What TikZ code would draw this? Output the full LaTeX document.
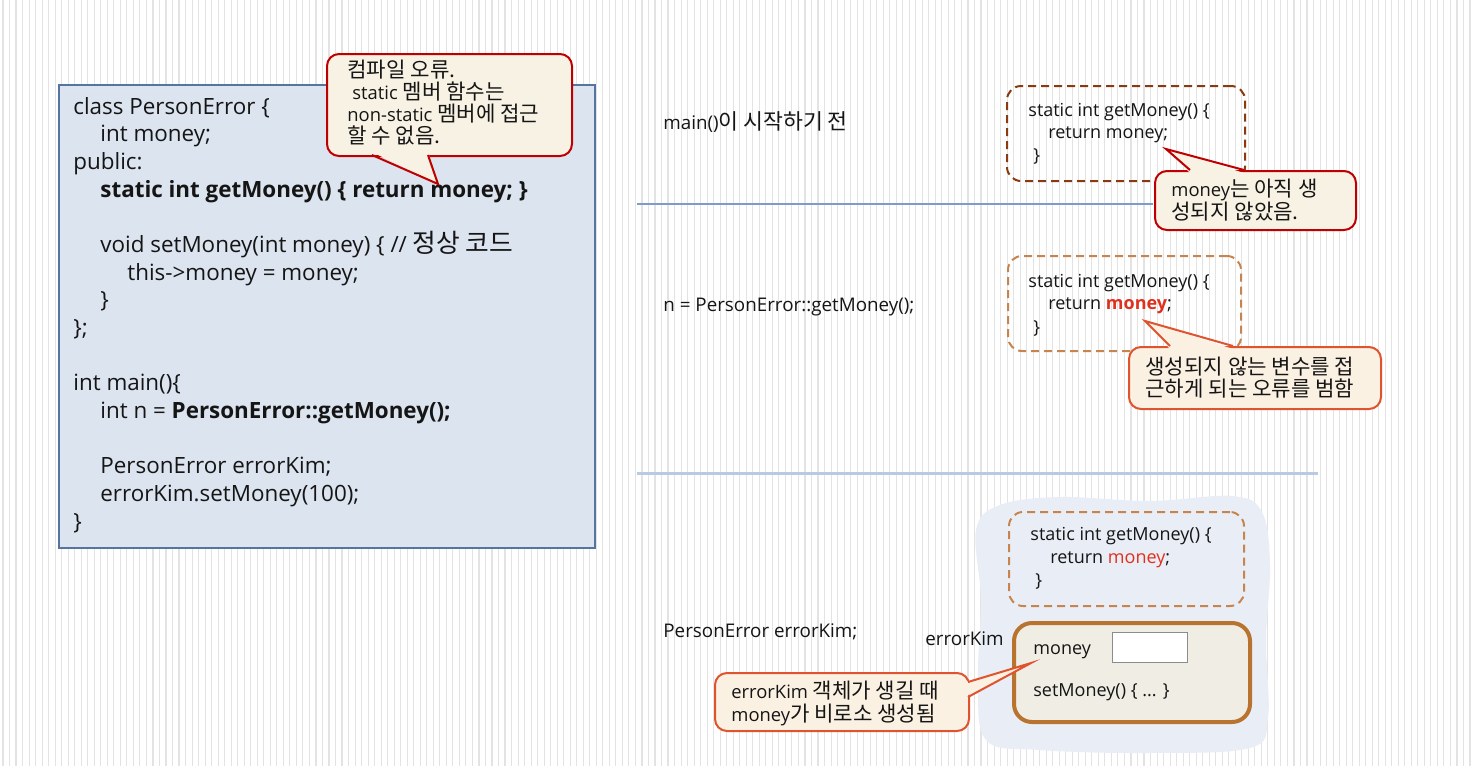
\documentclass[tikz,border=0pt]{standalone}
\usepackage{fontspec}
\setmainfont{Open Sans}
\newfontfamily\krfont{Noto Sans CJK KR}[Scale=1.15]
\newcommand\KR[1]{{\krfont #1}}
\definecolor{txt}{HTML}{151515}
\definecolor{boxfill}{HTML}{DCE4EF}
\definecolor{boxline}{HTML}{5574A0}
\definecolor{cream}{HTML}{F7F2E4}
\definecolor{peach}{HTML}{FBF1E3}
\definecolor{cred}{HTML}{C00000}
\definecolor{corange}{HTML}{E0532F}
\definecolor{dbrown}{HTML}{8B3A10}
\definecolor{lbrown}{HTML}{C8844E}
\definecolor{objline}{HTML}{B8732F}
\definecolor{objfill}{HTML}{EFEDE4}
\definecolor{mred}{HTML}{E0301E}
\definecolor{blob}{HTML}{E9EEF6}
\definecolor{sepA}{HTML}{7F9CC8}
\definecolor{sepB}{HTML}{BACAE2}
\tikzset{
  stripe/.style={draw=black!11, line width=0.55pt},
  code/.style={anchor=base west, inner sep=0, text=txt, font=\fontsize{11.2}{13}\selectfont},
  lab/.style={anchor=base west, inner sep=0, text=txt, font=\fontsize{9.4}{11}\selectfont},
  small/.style={anchor=base west, inner sep=0, text=txt, font=\fontsize{9}{11}\selectfont},
  ctext/.style={anchor=base west, inner sep=0, text=txt, font=\fontsize{9.2}{11}\selectfont},
  codebox/.style={anchor=north west, draw=boxline, fill=boxfill, line width=0.75pt, inner sep=0},
  callR/.style={anchor=north west, draw=cred, fill=cream, line width=1pt, rounded corners=6pt, inner sep=0},
  callO/.style={anchor=north west, draw=corange, fill=peach, line width=1pt, rounded corners=6pt, inner sep=0},
  dashbox/.style={anchor=north west, line width=1pt, dash pattern=on 4pt off 2.5pt, rounded corners=7pt, inner sep=0},
  objbox/.style={anchor=north west, draw=objline, fill=objfill, line width=2pt, rounded corners=9pt, inner sep=0},
  slot/.style={anchor=north west, draw=black!45, fill=white, line width=0.6pt, inner sep=0},
}
\begin{document}
\begin{tikzpicture}[x=0.5pt,y=-0.5pt]
\useasboundingbox (0,0) rectangle (1472,766);
\fill[white] (0,0) rectangle (1472,766);
\foreach \i in {0,...,225} {\draw[stripe] ({3+\i*6.52},0) -- ({3+\i*6.52},766);}

% ---------- left code box ----------
\node[codebox, minimum width=268pt, minimum height=231.5pt] (code) at (58,84) {};
\node[code] (l0) at (73,114) {class PersonError \{};
\node[code] (l1) at (100,141.7) {int money;};
\node[code] (l2) at (73,169.3) {public:};
\node[code] (l3) at (100,197) {\textbf{static int getMoney() \{ return money; \}}};
\node[code] (l5) at (100,252.3) {void setMoney(int money) \{ // \KR{정상 코드}};
\node[code] (l6) at (127,280) {this->money = money;};
\node[code] (l7) at (100,307.7) {\}};
\node[code] (l8) at (73,335.3) {\};};
\node[code] (l10) at (73,390.7) {int main()\{};
\node[code] (l11) at (100,418.3) {int n = \textbf{PersonError::getMoney();}};
\node[code] (l13) at (100,473.7) {PersonError errorKim;};
\node[code] (l14) at (100,501.3) {errorKim.setMoney(100);};
\node[code] (l15) at (73,529) {\}};

% ---------- callout 1 ----------
\node[callR, minimum width=122.5pt, minimum height=51pt] (c1) at (326,53) {};
\coordinate (c1t) at (438,184);
\fill[cream] (372,152) -- (c1t) -- (428,152) -- cycle;
\draw[cred, line width=1pt, line join=miter] (372,155) -- (c1t) -- (428,155);
\node[ctext] (c1a) at (347,77) {\KR{컴파일 오류.}};
\node[ctext] (c1b) at (352,99) {static \KR{멤버 함수는}};
\node[ctext] (c1c) at (347,121) {non-static \KR{멤버에 접근}};
\node[ctext] (c1d) at (347,143) {\KR{할 수 없음.}};

% ---------- separators ----------
\draw[sepA, line width=0.75pt] (637,204) -- (1153,204);
\draw[sepB, line width=1.5pt] (637,473) -- (1318,473);

% ---------- row 1 ----------
\node[lab] (r1) at (663,129) {main()\KR{이 시작하기 전}};
\node[dashbox, draw=dbrown, minimum width=119pt, minimum height=47.5pt] (d1) at (1006,85) {};
\node[small] (d1a) at (1028,116) {static int getMoney() \{};
\node[small] (d1b) at (1048,138) {return money;};
\node[small] (d1c) at (1033,161) {\}};
\node[callR, minimum width=100.5pt, minimum height=29.5pt] (c2) at (1154,170) {};
\coordinate (c2t) at (1166,149);
\fill[cream] (1190,173) -- (c2t) -- (1244,173) -- cycle;
\draw[cred, line width=1pt, line join=miter] (1190,170) -- (c2t) -- (1244,170);
\node[ctext] (c2a) at (1171,196) {money\KR{는 아직 생}};
\node[ctext] (c2b) at (1171,219) {\KR{성되지 않았음.}};

% ---------- row 2 ----------
\node[lab] (r2) at (663,311) {n = PersonError::getMoney();};
\node[dashbox, draw=lbrown, minimum width=116.5pt, minimum height=47.5pt] (d2) at (1007,255) {};
\node[small] (d2a) at (1028,287) {static int getMoney() \{};
\node[small] (d2b) at (1048,309) {return \textbf{\color{mred}money};};
\node[small] (d2c) at (1033,333) {\}};
\node[callO, minimum width=126pt, minimum height=31pt] (c3) at (1128,346) {};
\coordinate (c3t) at (1145,321);
\fill[peach] (1170,349) -- (c3t) -- (1233,349) -- cycle;
\draw[corange, line width=1pt, line join=miter] (1170,346) -- (c3t) -- (1233,346);
\node[ctext] (c3a) at (1145,374) {\KR{생성되지 않는 변수를 접}};
\node[ctext] (c3b) at (1145,396) {\KR{근하게 되는 오류를 범함}};

% ---------- row 3 ----------
\fill[blob] plot[smooth cycle, tension=0.6] coordinates {(1000,505) (1060,497) (1150,501) (1232,496) (1262,512) (1270,565) (1266,640) (1268,718) (1250,748) (1150,753) (1040,750) (986,740) (978,680) (981,600) (976,530)};
\node[lab] (r3) at (663,637) {PersonError errorKim;};
\node[dashbox, draw=lbrown, minimum width=117.5pt, minimum height=47pt] (d3) at (1008,511) {};
\node[small] (d3a) at (1030,540) {static int getMoney() \{};
\node[small] (d3b) at (1050,563) {return {\color{mred}money};};
\node[small] (d3c) at (1035,586) {\}};
\node[lab] (ek) at (925,645) {errorKim};
\node[objbox, minimum width=118pt, minimum height=49.5pt] (obj) at (1012,621) {};
\node[small] (om) at (1033,654) {money};
\node[slot, minimum width=37.5pt, minimum height=15pt] (slot) at (1112,632) {};
\node[small] (os) at (1033,696) {setMoney() \{ ... \}};
\node[callO, minimum width=127pt, minimum height=29pt] (c4) at (714,672) {};
\coordinate (c4t) at (1031,663);
\fill[peach] (965,682) -- (c4t) -- (965,697) -- cycle;
\draw[corange, line width=1pt, line join=miter] (968,682) -- (c4t) -- (968,697);
\node[ctext] (c4a) at (731,698) {errorKim \KR{객체가 생길 때}};
\node[ctext] (c4b) at (731,721) {money\KR{가 비로소 생성됨}};
\end{tikzpicture}
\end{document}
